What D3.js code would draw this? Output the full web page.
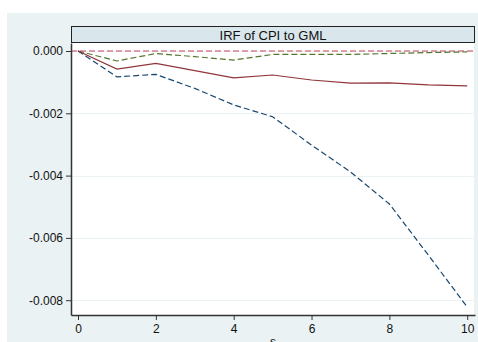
<!DOCTYPE html>
<html>
<head>
<meta charset="utf-8">
<script src="https://cdn.jsdelivr.net/npm/d3@7"></script>
<style>
  body { margin: 0; background: #fff; }
  svg text { font-family: "Liberation Sans", Arial, sans-serif; }
</style>
</head>
<body>
<svg id="chart" width="478" height="342"></svg>
<script>
  // step horizon and estimates
  var steps = [0, 1, 2, 3, 4, 5, 6, 7, 8, 9, 10];
  var irf = [0, -0.00058, -0.00040, -0.00063, -0.00086, -0.00077, -0.00093, -0.00103, -0.00102, -0.00109, -0.00112];
  var upper = [0, -0.00032, -0.00008, -0.00018, -0.00029, -0.00011, -0.00011, -0.00011, -0.00008, -0.00005, -0.00003];
  var lower = [0, -0.00083, -0.00075, -0.00120, -0.00173, -0.00211, -0.00302, -0.00388, -0.00491, -0.00655, -0.00822];
  var xTicks = [0, 2, 4, 6, 8, 10];
  var yTicks = [0, -0.002, -0.004, -0.006, -0.008];
  var title = 'IRF of CPI to GML';

  (function () {
    var svg = d3.select('#chart'),
      pLeft = 71,
      pRight = 475,
      pTop = 43,
      pBottom = 315;

    // outer graph region
    svg.append('rect')
      .attr('x', 7).attr('y', 13)
      .attr('width', 471).attr('height', 329)
      .attr('fill', '#eaf2f3');

    var x = d3.scaleLinear().domain([-0.18, 10.2]).range([pLeft, pRight]);
    var y = d3.scaleLinear().domain([-0.008475, 0.000257]).range([pBottom, pTop]);

    // plot region
    svg.append('rect')
      .attr('x', pLeft).attr('y', pTop)
      .attr('width', pRight - pLeft).attr('height', pBottom - pTop)
      .attr('fill', '#fff');

    // grid
    svg.append('g').selectAll('line').data(yTicks).enter().append('line')
      .attr('x1', pLeft).attr('x2', pRight)
      .attr('y1', function (d) { return Math.round(y(d)) + 0.5; })
      .attr('y2', function (d) { return Math.round(y(d)) + 0.5; })
      .attr('stroke', '#eaf2f3').attr('stroke-width', 1);

    svg.append('line')
      .attr('x1', pRight - 0.5).attr('x2', pRight - 0.5)
      .attr('y1', pTop).attr('y2', pBottom)
      .attr('stroke', '#eaf2f3');

    // title strip
    svg.append('rect')
      .attr('x', pLeft + 0.5).attr('y', 26.5)
      .attr('width', pRight - pLeft - 1).attr('height', 16)
      .attr('fill', '#d9e6eb').attr('stroke', '#222').attr('stroke-width', 1);
    svg.append('text')
      .attr('x', (pLeft + pRight) / 2).attr('y', 39.5)
      .attr('text-anchor', 'middle')
      .attr('font-size', 13).attr('fill', '#111')
      .text(title);

    // zero reference line
    svg.append('line')
      .attr('x1', pLeft).attr('x2', pRight)
      .attr('y1', y(0)).attr('y2', y(0))
      .attr('stroke', '#c8405a').attr('stroke-width', 1.2)
      .attr('stroke-dasharray', '6,3');

    var line = d3.line()
      .x(function (d, i) { return x(steps[i]); })
      .y(function (d) { return y(d); });

    svg.append('path').datum(upper)
      .attr('d', line).attr('fill', 'none')
      .attr('stroke', '#55752f').attr('stroke-width', 1.2)
      .attr('stroke-dasharray', '6,3');

    svg.append('path').datum(lower)
      .attr('d', line).attr('fill', 'none')
      .attr('stroke', '#1a476f').attr('stroke-width', 1.2)
      .attr('stroke-dasharray', '6,3');

    svg.append('path').datum(irf)
      .attr('d', line).attr('fill', 'none')
      .attr('stroke', '#90353b').attr('stroke-width', 1.2);

    // axes
    var xAxis = svg.append('g')
      .attr('transform', 'translate(0,' + pBottom + ')')
      .call(d3.axisBottom(x).tickValues(xTicks).tickSize(5).tickSizeOuter(0).tickPadding(4).tickFormat(d3.format('d')));
    var yAxis = svg.append('g')
      .attr('transform', 'translate(' + pLeft + ',0)')
      .call(d3.axisLeft(y).tickValues(yTicks).tickSize(5).tickSizeOuter(0).tickPadding(3));

    [xAxis, yAxis].forEach(function (g) {
      g.select('.domain').attr('stroke', '#333').attr('stroke-width', 1.5);
      g.selectAll('.tick line').attr('stroke', '#333');
      g.selectAll('.tick text')
        .attr('font-family', '"Liberation Sans", Arial, sans-serif')
        .attr('font-size', 12).attr('fill', '#111');
    });
    yAxis.selectAll('.tick text').text(function (d) { return d3.format('.3f')(d).replace('\u2212', '-'); });

    svg.append('text')
      .attr('x', (pLeft + pRight) / 2).attr('y', 346)
      .attr('text-anchor', 'middle')
      .attr('font-size', 12).attr('fill', '#111')
      .text('s');
  })();
</script>
</body>
</html>
